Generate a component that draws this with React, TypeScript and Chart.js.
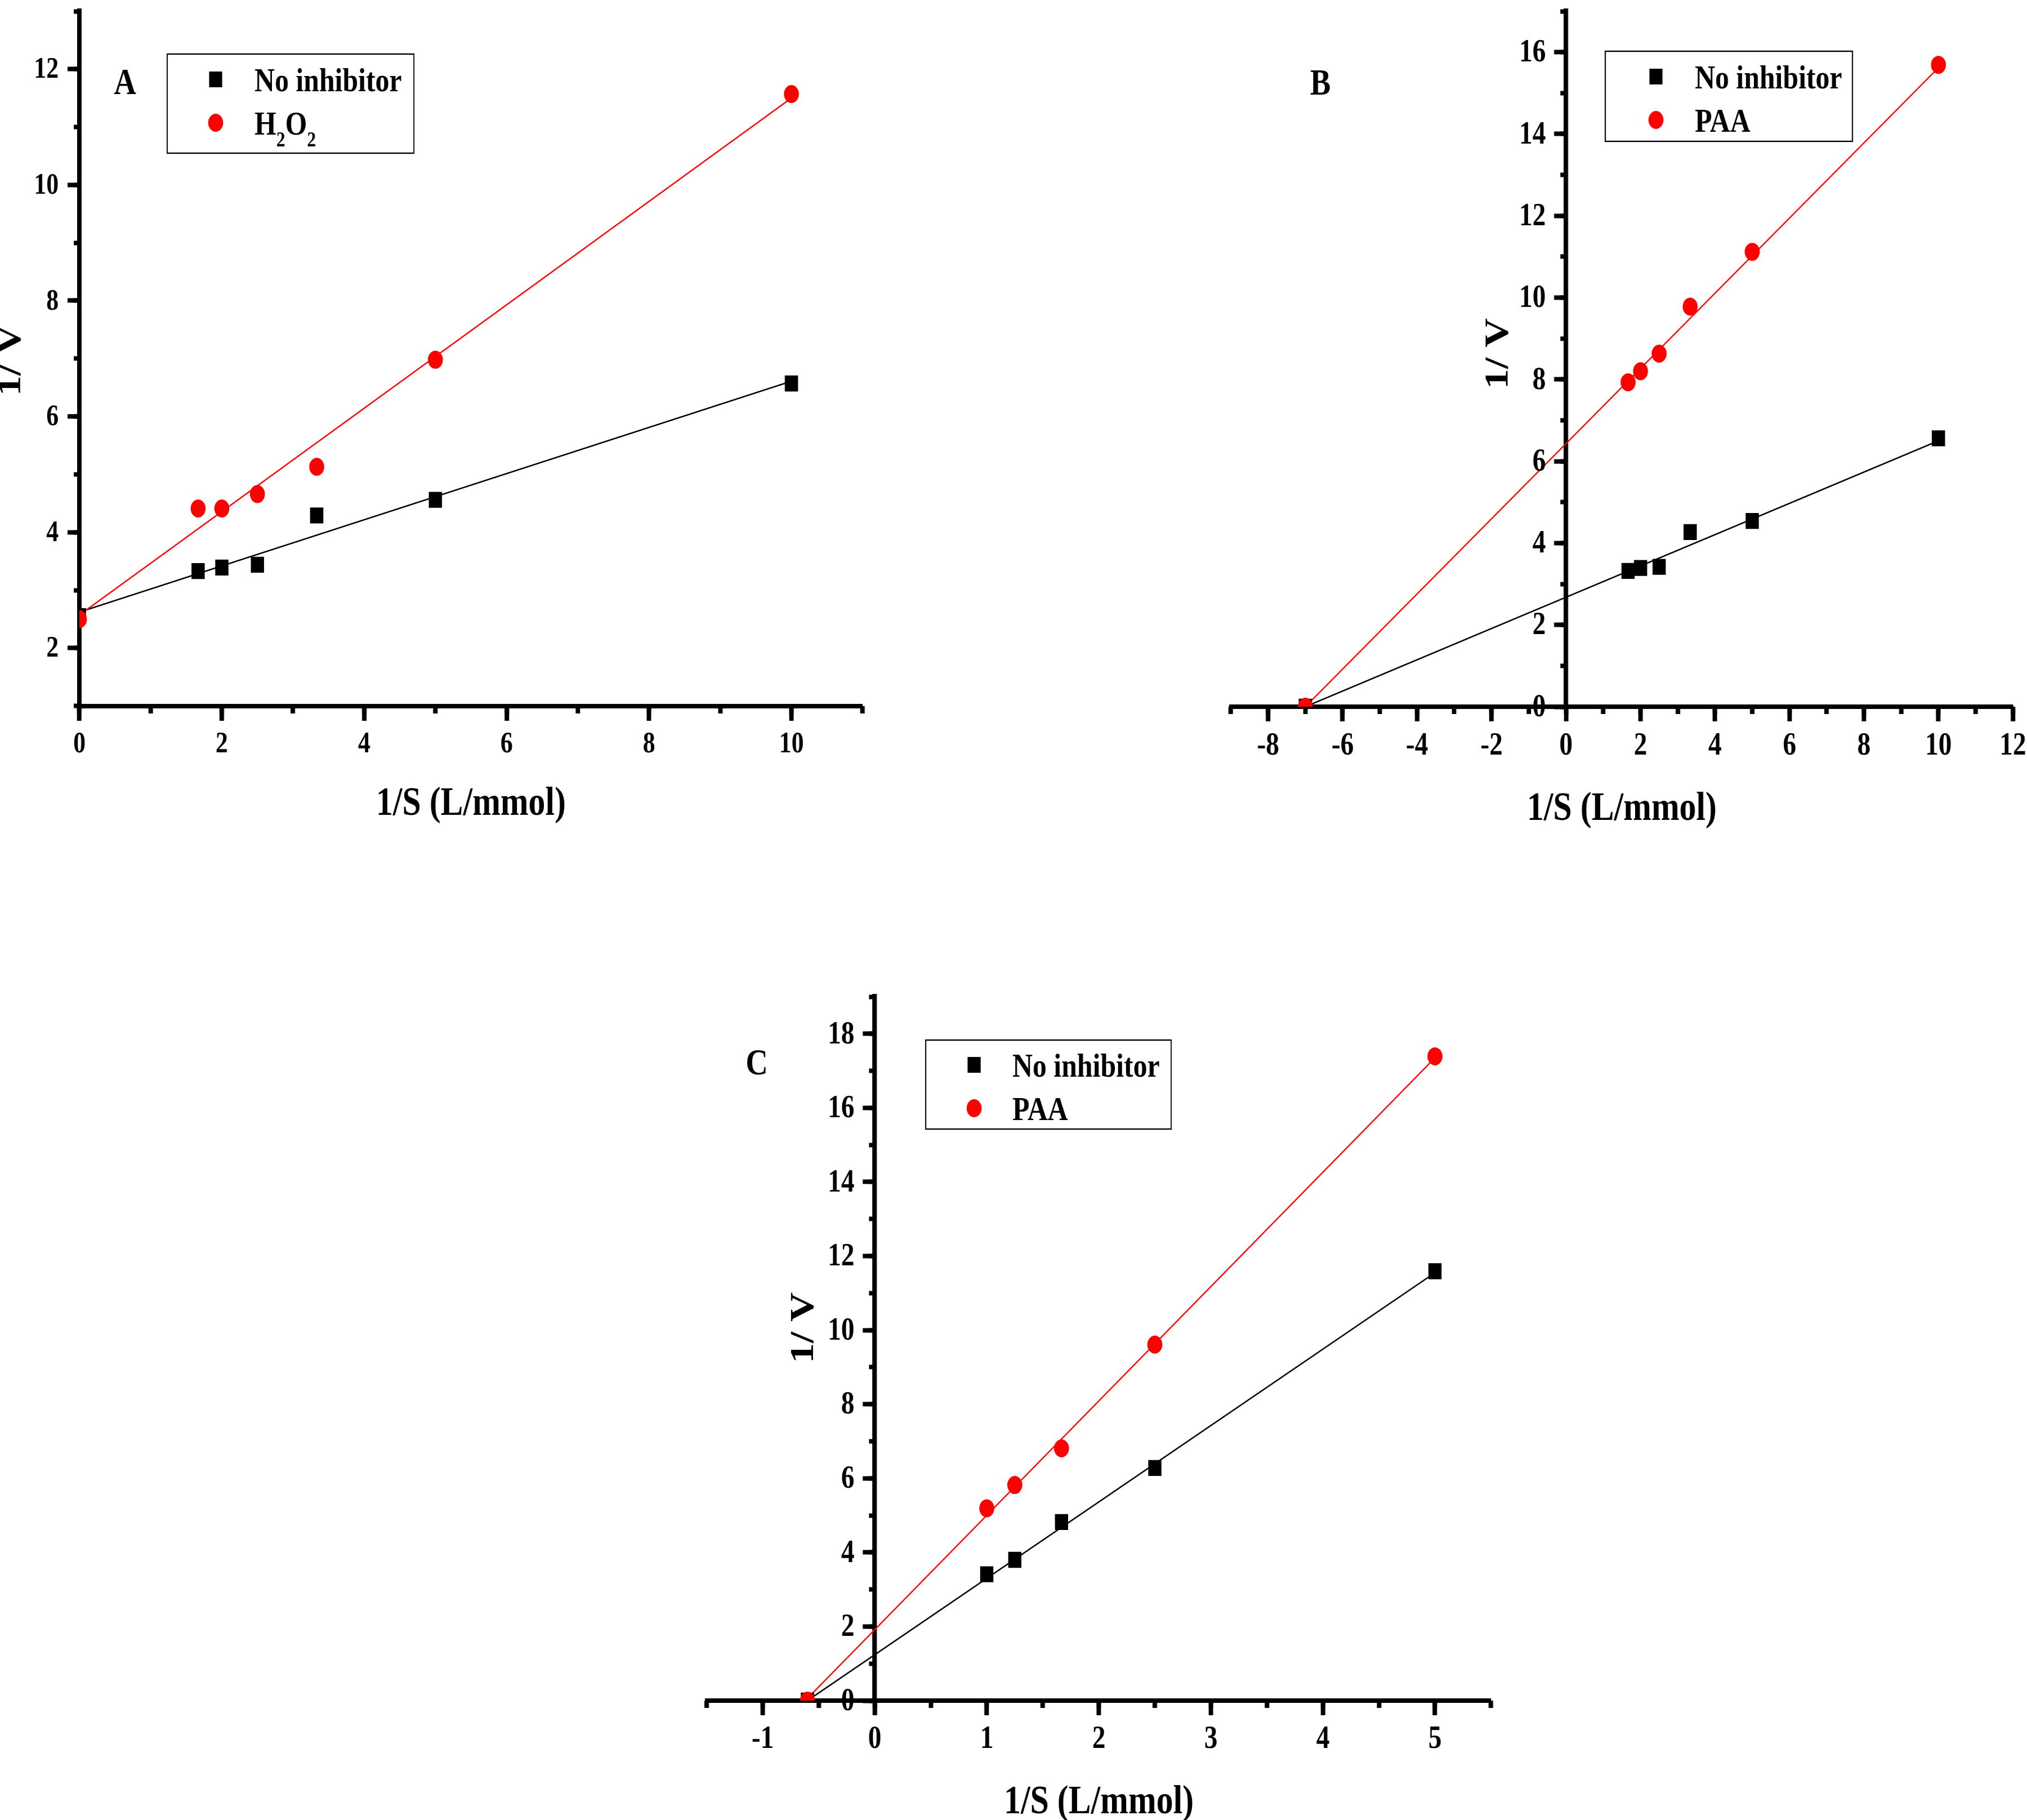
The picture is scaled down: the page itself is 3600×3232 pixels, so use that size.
import React, { useEffect, useRef } from 'react';
import { Chart, registerables } from 'chart.js';

Chart.register(...registerables);

// ---------------- data ----------------
// Panel A : H2O2
const xA = [0, 1.667, 2, 2.5, 3.333, 5, 10];
const yA_none = [2.55, 3.33, 3.39, 3.44, 4.29, 4.56, 6.57];
const yA_h2o2 = [2.5, 4.41, 4.41, 4.66, 5.13, 6.98, 11.57];
const fitXA_none = [0, 10];
const fitYA_none = [2.62, 6.61];
const fitXA_h2o2 = [0, 10];
const fitYA_h2o2 = [2.57, 11.5];

// Panel B : PAA
const xB = [-7, 1.667, 2, 2.5, 3.333, 5, 10];
const yB_none = [0, 3.32, 3.39, 3.42, 4.27, 4.54, 6.56];
const yB_paa = [0, 7.93, 8.2, 8.63, 9.78, 11.12, 15.69];
const fitXB_none = [-7, 10];
const fitYB_none = [0, 6.5];
const fitXB_paa = [-7, 10];
const fitYB_paa = [0, 15.62];

// Panel C : PAA
const xC = [-0.6, 1, 1.25, 1.667, 2.5, 5];
const yC_none = [0, 3.41, 3.8, 4.82, 6.28, 11.59];
const yC_paa = [0, 5.19, 5.82, 6.81, 9.61, 17.39];
const fitXC_none = [-0.6, 5];
const fitYC_none = [0, 11.55];
const fitXC_paa = [-0.62, 5];
const fitYC_paa = [0, 17.35];

// axis ranges [min, max] and tick values
const rangeAX = [0, 11];
const rangeAY = [1, 13];
const ticksAX = [0, 2, 4, 6, 8, 10];
const ticksAY = [2, 4, 6, 8, 10, 12];
const minorAX = 1;
const minorAY = 1;

const rangeBX = [-9, 12];
const rangeBY = [0, 17];
const ticksBX = [-8, -6, -4, -2, 0, 2, 4, 6, 8, 10, 12];
const ticksBY = [0, 2, 4, 6, 8, 10, 12, 14, 16];
const minorBX = 1;
const minorBY = 1;

const rangeCX = [-1.5, 5.5];
const rangeCY = [0, 19];
const ticksCX = [-1, 0, 1, 2, 3, 4, 5];
const ticksCY = [0, 2, 4, 6, 8, 10, 12, 14, 16, 18];
const minorCX = 0.5;
const minorCY = 1;

const labelsA = ['No inhibitor', 'H2O2'];
const labelsB = ['No inhibitor', 'PAA'];
const labelsC = ['No inhibitor', 'PAA'];
const panelLetters = ['A', 'B', 'C'];
const xTitle = '1/S (L/mmol)';
const yTitle = '1/ V';

// ---------------- styling / layout ----------------
const S = 0.83; // horizontal compression of the original figure
const FONT = "'Liberation Serif', 'Times New Roman', Times, serif";
const RED = '#ff0000';
const BLACK = '#000000';
const Y_BORDER = 8 / S;
const Y_MAJOR = 17 / S;

type Series = { label: string; x: number[]; y: number[]; fx: number[]; fy: number[]; color: string; style: 'rect' | 'circle' };
type Panel = {
  letter: string;
  left: number; top: number; w: number; h: number;
  area: { l: number; r: number; t: number; b: number };
  rx: number[]; ry: number[]; tx: number[]; ty: number[]; mx: number; my: number;
  yAt: number; xAt: number;
  tickSize: number; xPad: number; yPad: number;
  xTitleY: number; yTitleX: number; yTitleY: number;
  letterX: number; letterY: number;
  legend: { x: number; y: number; w: number; h: number; mx: number; rows: number[]; tx: number };
  series: Series[];
};

const PANELS: Panel[] = [
  {
    letter: panelLetters[0], left: 0, top: 0, w: 1700, h: 1520,
    area: { l: 141, r: 1532, t: 4.4, b: 1253.6 },
    rx: rangeAX, ry: rangeAY, tx: ticksAX, ty: ticksAY, mx: minorAX, my: minorAY,
    yAt: 0, xAt: 1,
    tickSize: 53, xPad: 15, yPad: 19,
    xTitleY: 1428, yTitleX: 20, yTitleY: 640,
    letterX: 222, letterY: 150,
    legend: { x: 297, y: 96, w: 438, h: 176, mx: 383, rows: [141, 218], tx: 452 },
    series: [
      { label: labelsA[0], x: xA, y: yA_none, fx: fitXA_none, fy: fitYA_none, color: BLACK, style: 'rect' },
      { label: labelsA[1], x: xA, y: yA_h2o2, fx: fitXA_h2o2, fy: fitYA_h2o2, color: RED, style: 'circle' },
    ],
  },
  {
    letter: panelLetters[1], left: 2050, top: 0, w: 1550, h: 1520,
    area: { l: 2186, r: 3575, t: 4, b: 1255 },
    rx: rangeBX, ry: rangeBY, tx: ticksBX, ty: ticksBY, mx: minorBX, my: minorBY,
    yAt: 0, xAt: 0,
    tickSize: 57, xPad: 14, yPad: 18,
    xTitleY: 1437, yTitleX: 2662, yTitleY: 628,
    letterX: 2345, letterY: 151,
    legend: { x: 2851, y: 91, w: 439, h: 160, mx: 2941, rows: [136, 213], tx: 3010 },
    series: [
      { label: labelsB[0], x: xB, y: yB_none, fx: fitXB_none, fy: fitYB_none, color: BLACK, style: 'rect' },
      { label: labelsB[1], x: xB, y: yB_paa, fx: fitXB_paa, fy: fitYB_paa, color: RED, style: 'circle' },
    ],
  },
  {
    letter: panelLetters[2], left: 1150, top: 1700, w: 1600, h: 1532,
    area: { l: 1255, r: 2648, t: 1770, b: 3020 },
    rx: rangeCX, ry: rangeCY, tx: ticksCX, ty: ticksCY, mx: minorCX, my: minorCY,
    yAt: 0, xAt: 0,
    tickSize: 57, xPad: 13, yPad: 18,
    xTitleY: 3201, yTitleX: 1428, yTitleY: 2358,
    letterX: 1344, letterY: 1891,
    legend: { x: 1644, y: 1847, w: 436, h: 158, mx: 1730, rows: [1891, 1968], tx: 1798 },
    series: [
      { label: labelsC[0], x: xC, y: yC_none, fx: fitXC_none, fy: fitYC_none, color: BLACK, style: 'rect' },
      { label: labelsC[1], x: xC, y: yC_paa, fx: fitXC_paa, fy: fitYC_paa, color: RED, style: 'circle' },
    ],
  },
];

const zeroPad = (sc: any) => {
  sc.paddingLeft = 0;
  sc.paddingRight = 0;
  sc.paddingTop = 0;
  sc.paddingBottom = 0;
};

function axisCfg(axis: 'x' | 'y', p: Panel, major: boolean) {
  const isX = axis === 'x';
  const [min, max] = isX ? p.rx : p.ry;
  const tickVals = isX ? p.tx : p.ty;
  const minorStep = isX ? p.mx : p.my;
  const bw = isX ? 8 : Y_BORDER;
  const tw = isX ? 8 / S : 8;
  const majorLen = isX ? 22 : Y_MAJOR;
  const minorLen = (isX ? 9 : 6 / S) + bw / 2;
  const cfg: any = {
    type: 'linear',
    axis,
    position: isX ? { y: p.xAt } : { x: p.yAt },
    min,
    max,
    z: 1,
    border: { display: major, color: BLACK, width: bw },
    grid: { display: true, drawOnChartArea: false, drawTicks: true, tickLength: major ? majorLen : minorLen, tickWidth: tw, tickColor: BLACK },
    ticks: {
      // y labels of a value-positioned axis are drawn by the decor plugin (from this scale's ticks)
      display: major && isX,
      stepSize: major ? undefined : minorStep,
      includeBounds: !major,
      autoSkip: false,
      maxRotation: 0,
      minRotation: 0,
      padding: isX ? p.xPad : p.yPad,
      color: BLACK,
      font: { family: FONT, size: p.tickSize, weight: 'bold' },
    },
    afterFit: zeroPad,
  };
  if (major) {
    cfg.afterBuildTicks = (sc: any) => {
      sc.ticks = tickVals.map((v) => ({ value: v }));
    };
  }
  return cfg;
}

function drawFormula(ctx: CanvasRenderingContext2D, text: string, x: number, y: number, size: number) {
  const parts = text.match(/[A-Za-z ]+|\d+/g) || [];
  let cx = x;
  parts.forEach((part, i) => {
    const isSub = /^\d+$/.test(part) && i > 0;
    ctx.font = `bold ${isSub ? 38 : size}px ${FONT}`;
    ctx.fillText(part, cx, isSub ? y + 21 : y);
    cx += ctx.measureText(part).width;
  });
}

function decorPlugin(p: Panel) {
  return {
    id: 'decor' + p.letter,
    afterDraw(chart: any) {
      const ctx: CanvasRenderingContext2D = chart.ctx;
      const cx = (X: number) => (X - p.left) / S;
      const cy = (Y: number) => Y - p.top;
      const ca = chart.chartArea;
      ctx.save();
      ctx.fillStyle = BLACK;

      // y tick labels, from the y scale's own ticks
      const ys = chart.scales.y;
      const axisX = chart.scales.x.getPixelForValue(p.yAt);
      ctx.font = `bold ${p.tickSize}px ${FONT}`;
      ctx.textAlign = 'right';
      ctx.textBaseline = 'middle';
      ys.ticks.forEach((t: any) => {
        const label = t.label !== undefined ? String(t.label) : String(t.value);
        ctx.fillText(label, axisX - Y_BORDER / 2 - Y_MAJOR - p.yPad, ys.getPixelForValue(t.value) + 2);
      });

      ctx.textAlign = 'center';
      // panel letter
      ctx.font = `bold 66px ${FONT}`;
      ctx.fillText(p.letter, cx(p.letterX), cy(p.letterY));
      // axis titles
      ctx.font = `bold 72px ${FONT}`;
      ctx.fillText(xTitle, (ca.left + ca.right) / 2, cy(p.xTitleY));
      ctx.save();
      ctx.translate(cx(p.yTitleX), cy(p.yTitleY));
      ctx.rotate(-Math.PI / 2);
      ctx.fillText(yTitle, 0, 0);
      ctx.restore();
      // legend
      const L = p.legend;
      ctx.lineWidth = 2.4;
      ctx.strokeStyle = BLACK;
      ctx.strokeRect(cx(L.x), cy(L.y), L.w / S, L.h);
      ctx.textAlign = 'left';
      ctx.textBaseline = 'alphabetic';
      p.series.forEach((s, i) => {
        const mx = cx(L.mx);
        const my = cy(L.rows[i]);
        ctx.fillStyle = s.color;
        if (s.style === 'rect') {
          ctx.fillRect(mx - 14, my - 14, 28, 28);
        } else {
          ctx.beginPath();
          ctx.arc(mx, my, 16, 0, Math.PI * 2);
          ctx.fill();
        }
        ctx.fillStyle = BLACK;
        drawFormula(ctx, s.label, cx(L.tx), my + 21, 60);
      });
      ctx.restore();
    },
  };
}

function buildConfig(p: Panel, W: number): any {
  const ca = { l: (p.area.l - p.left) / S, r: (p.area.r - p.left) / S, t: p.area.t - p.top, b: p.area.b - p.top };
  const pts = (xs: number[], ys: number[]) => xs.map((v, i) => ({ x: v, y: ys[i] }));
  const [s0, s1] = p.series;
  const pointDs = (s: Series, order: number) => ({
    label: s.label,
    data: pts(s.x, s.y),
    showLine: false,
    pointStyle: s.style,
    pointRadius: s.style === 'rect' ? 20 : 16,
    pointHoverRadius: s.style === 'rect' ? 20 : 16,
    pointBorderWidth: 0,
    backgroundColor: s.color,
    borderColor: s.color,
    order,
  });
  const fitDs = (s: Series, order: number) => ({
    label: s.label + ' fit',
    data: pts(s.fx, s.fy),
    showLine: true,
    pointRadius: 0,
    pointHoverRadius: 0,
    borderColor: s.color,
    borderWidth: 2.6,
    fill: false,
    order,
  });
  return {
    type: 'scatter',
    data: { datasets: [pointDs(s1, 0), pointDs(s0, 1), fitDs(s1, 2), fitDs(s0, 3)] },
    options: {
      responsive: false,
      animation: false,
      devicePixelRatio: 1,
      events: [],
      layout: { padding: { left: ca.l, right: W - ca.r, top: ca.t, bottom: p.h - ca.b } },
      plugins: { legend: { display: false }, tooltip: { enabled: false }, title: { display: false } },
      scales: {
        x: axisCfg('x', p, true),
        xMinor: axisCfg('x', p, false),
        y: axisCfg('y', p, true),
        yMinor: axisCfg('y', p, false),
      },
    },
    plugins: [decorPlugin(p)],
  };
}

function PanelChart({ p }: { p: Panel }) {
  const ref = useRef<HTMLCanvasElement>(null);
  const W = Math.round(p.w / S);
  useEffect(() => {
    const chart = new Chart(ref.current as HTMLCanvasElement, buildConfig(p, W));
    return () => chart.destroy();
  }, []);
  return (
    <div
      style={{
        position: 'absolute',
        left: p.left,
        top: p.top,
        width: W,
        height: p.h,
        transform: `scaleX(${S})`,
        transformOrigin: '0 0',
      }}
    >
      <canvas ref={ref} width={W} height={p.h} style={{ display: 'block', width: W, height: p.h }} />
    </div>
  );
}

export default function App() {
  return (
    <div
      style={{
        position: 'fixed',
        left: 0,
        top: 0,
        width: 3600,
        height: 3232,
        overflow: 'hidden',
        background: '#ffffff',
      }}
    >
      {PANELS.map((p) => (
        <PanelChart key={p.letter} p={p} />
      ))}
    </div>
  );
}
